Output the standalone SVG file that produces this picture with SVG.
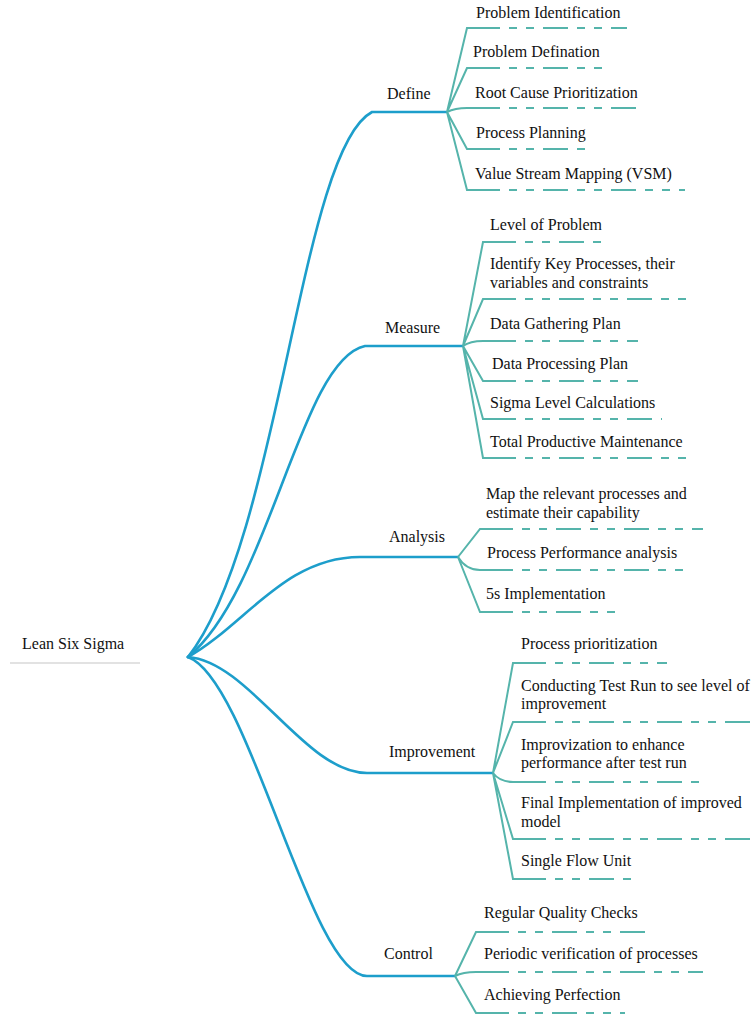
<svg xmlns="http://www.w3.org/2000/svg" width="754" height="1014" viewBox="0 0 754 1014">
<style>
text{font-family:"Liberation Serif","Times New Roman",serif;font-size:16px;fill:#111}
.main{fill:none;stroke:#1d9ecb;stroke-width:2.6;stroke-linecap:round}
.leaf{fill:none;stroke:#55b4ab;stroke-width:2}
.dash{fill:none;stroke:#55b4ab;stroke-width:2;stroke-dasharray:8 9 8 9 25 9;stroke-dashoffset:59}
</style>
<rect width="754" height="1014" fill="#fff"/>
<g id="connectors">
<path class="main" d="M188,657 C280,540 300,150 372,112 H447"/>
<path class="main" d="M188,657 C270,590 300,360 365,346 H463"/>
<path class="main" d="M188,657 C245,625 285,557 360,557 H458"/>
<path class="main" d="M188,657 C250,662 305,773 367,773 H493"/>
<path class="main" d="M188,657 C250,680 310,976 367,976 H455"/>
<line x1="10" y1="663" x2="140" y2="663" stroke="#e2e2e2" stroke-width="2"/>
<!-- Define leaves -->
<path class="leaf" d="M447,112 L467,28 h33 M447,112 L467,68 h33 M447,112 Q455,108 467,108 h33 M447,112 L467,149 h33 M447,112 L467,190 h33"/>
<path class="dash" d="M500,28 H627 M500,68 H605 M500,108 H645 M500,149 H588 M500,190 H685"/>
<!-- Measure leaves -->
<path class="leaf" d="M463,346 L483,242 h33 M463,346 L483,299 h33 M463,346 Q470,341 483,341 h33 M463,346 L483,381 h33 M463,346 L483,419 h33 M463,346 L483,458 h33"/>
<path class="dash" d="M516,242 H605 M516,299 H688 M516,341 H638 M516,381 H638 M516,419 H662 M516,458 H693"/>
<!-- Analysis leaves -->
<path class="leaf" d="M458,557 L480,529 h33 M458,557 Q466,570 480,570 h33 M458,557 L480,612 h33"/>
<path class="dash" d="M513,529 H703 M513,570 H690 M513,612 H615"/>
<!-- Improvement leaves -->
<path class="leaf" d="M493,773 L513,663 h33 M493,773 L513,722 h33 M493,773 Q500,782 513,782 h33 M493,773 L513,839 h33 M493,773 L513,879 h33"/>
<path class="dash" d="M546,663 H667 M546,722 H754 M546,782 H700 M546,839 H752 M546,879 H635"/>
<!-- Control leaves -->
<path class="leaf" d="M455,976 L476,932 h33 M455,976 Q463,972 476,972 h33 M455,976 L476,1013 h33"/>
<path class="dash" d="M509,932 H647 M509,972 H703 M509,1013 H625"/>
</g>
<g id="root"><text x="22" y="649">Lean Six Sigma</text></g>
<g id="define"><text x="387" y="99">Define</text></g>
<g id="measure"><text x="385" y="333">Measure</text></g>
<g id="analysis"><text x="389" y="542">Analysis</text></g>
<g id="improvement"><text x="389" y="757">Improvement</text></g>
<g id="control"><text x="384" y="959">Control</text></g>
<g id="define-leaves">
<text x="476" y="18">Problem Identification</text>
<text x="473" y="57">Problem Defination</text>
<text x="475" y="98">Root Cause Prioritization</text>
<text x="476" y="138">Process Planning</text>
<text x="475" y="179">Value Stream Mapping (VSM)</text>
</g>
<g id="measure-leaves">
<text x="490" y="230">Level of Problem</text>
<text x="490" y="269">Identify Key Processes, their</text>
<text x="490" y="288">variables and constraints</text>
<text x="490" y="329">Data Gathering Plan</text>
<text x="492" y="369">Data Processing Plan</text>
<text x="490" y="408">Sigma Level Calculations</text>
<text x="490" y="447">Total Productive Maintenance</text>
</g>
<g id="analysis-leaves">
<text x="486" y="499">Map the relevant processes and</text>
<text x="486" y="518">estimate their capability</text>
<text x="487" y="558">Process Performance analysis</text>
<text x="486" y="599">5s Implementation</text>
</g>
<g id="improvement-leaves">
<text x="521" y="649">Process prioritization</text>
<text x="521" y="691">Conducting Test Run to see level of</text>
<text x="521" y="709">improvement</text>
<text x="521" y="750">Improvization to enhance</text>
<text x="521" y="768">performance after test run</text>
<text x="521" y="808">Final Implementation of improved</text>
<text x="521" y="827">model</text>
<text x="521" y="866">Single Flow Unit</text>
</g>
<g id="control-leaves">
<text x="484" y="918">Regular Quality Checks</text>
<text x="484" y="959">Periodic verification of processes</text>
<text x="484" y="1000">Achieving Perfection</text>
</g>
</svg>
